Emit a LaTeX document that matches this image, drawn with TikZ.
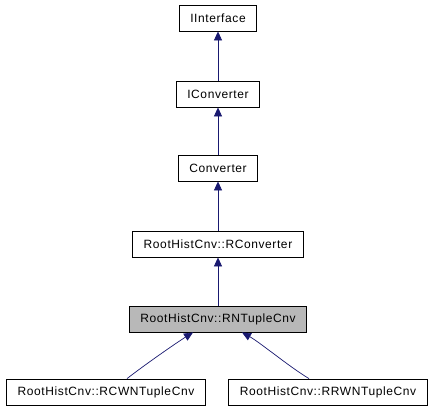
\documentclass[tikz,border=0pt]{standalone}
\usepackage{fontspec}
\setmainfont{Liberation Sans}[LetterSpace=5]
\usetikzlibrary{arrows.meta}
\definecolor{edgeblue}{HTML}{191970}

\begin{document}
\begin{tikzpicture}[x=1pt,y=1pt,font=\fontsize{12}{14}\selectfont,
    cls/.style={draw,line width=0.8pt,minimum height=26pt,inner xsep=11pt},
    inh/.style={-{Triangle[width=8pt,length=9pt]},edgeblue,line width=0.7pt}]
    \useasboundingbox (0,0) rectangle (434,410);
    \path (218,392) node [cls] (iinterface) {IInterface};
    \path (218,316) node [cls] (iconverter) {IConverter};
    \path (218,242) node [cls] (converter) {Converter};
    \path (218,166) node [cls] (rconverter) {RootHistCnv::RConverter};
    \path (218, 91) node [cls,fill=black!28] (rntuple) {RootHistCnv::RNTupleCnv};
    \path (106, 18) node [cls] (rcwn) {RootHistCnv::RCWNTupleCnv};
    \path (328, 18) node [cls] (rrwn) {RootHistCnv::RRWNTupleCnv};
    \draw [inh] (iconverter) -- (iinterface);
    \draw [inh] (converter) -- (iconverter);
    \draw [inh] (rconverter) -- (converter);
    \draw [inh] (rntuple) -- (rconverter);
    \draw [inh] (rcwn.north) ++(21,0) coordinate (rcwntop)
        .. controls +(18,14) and +(-16,-10) .. (rntuple.south west -| 193,0);
    \draw [inh] (rrwn.north) ++(-19,0) coordinate (rrwntop)
        .. controls +(-20,12) and +(18,-10) .. (rntuple.south west -| 242,0);
\end{tikzpicture}
\end{document}
